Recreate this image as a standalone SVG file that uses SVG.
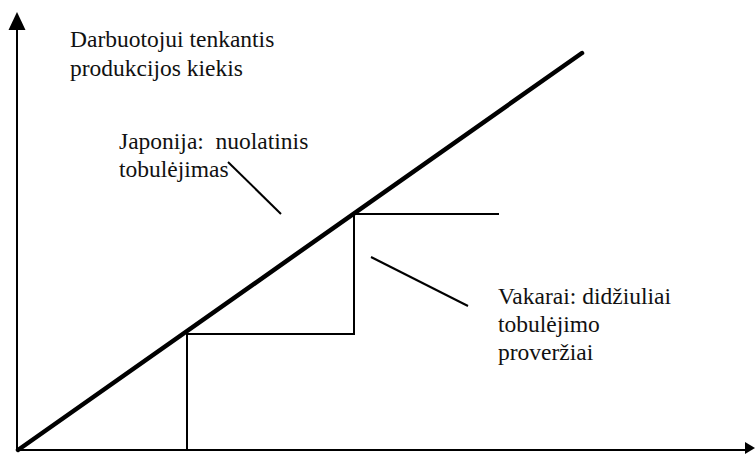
<svg xmlns="http://www.w3.org/2000/svg" width="755" height="454" viewBox="0 0 755 454">
<style>
text{font-family:'Liberation Serif','Times New Roman','DejaVu Serif',serif;font-size:23.5px;fill:#111}
.ax{stroke:#000;stroke-width:2;fill:none}
.ln{stroke:#000;stroke-width:2;fill:none}
.th{stroke:#000;stroke-width:4.5;fill:none;stroke-linecap:round}
</style>
<g id="axes">
<line class="ax" x1="17" y1="450" x2="17" y2="18"/>
<path d="M8.5,30 L17,12 L25.5,30 Z" fill="#000"/>
<line class="ax" x1="16" y1="450" x2="748" y2="450"/>
<path d="M745,442 L755,448 L745,454 Z" fill="#000"/>
</g>
<g id="connectors">
<polyline class="ln" points="187,450 187,334 354,334 354,214 499,214"/>
<line class="th" x1="18" y1="450" x2="582" y2="53"/>
<line class="ln" x1="228" y1="162" x2="281" y2="214"/>
<line class="ln" x1="371" y1="257" x2="468" y2="306"/>
</g>
<g id="ylabel">
<text font-family="Liberation Serif, serif" x="70" y="47">Darbuotojui tenkantis</text>
<text font-family="Liberation Serif, serif" x="70" y="76">produkcijos kiekis</text>
</g>
<g id="japonija">
<text font-family="Liberation Serif, serif" x="119" y="149" xml:space="preserve">Japonija:  nuolatinis</text>
<text font-family="Liberation Serif, serif" x="119" y="177">tobulėjimas</text>
</g>
<g id="vakarai">
<text font-family="Liberation Serif, serif" x="498" y="304">Vakarai: didžiuliai</text>
<text font-family="Liberation Serif, serif" x="498" y="332">tobulėjimo</text>
<text font-family="Liberation Serif, serif" x="498" y="360">proveržiai</text>
</g>
</svg>
